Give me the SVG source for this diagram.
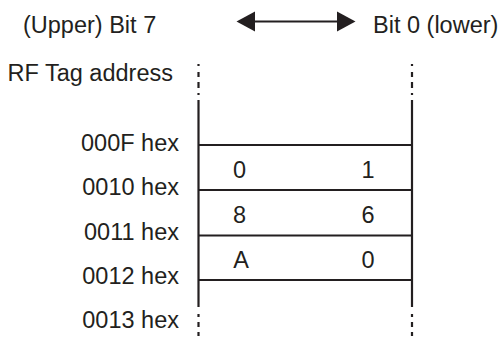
<svg xmlns="http://www.w3.org/2000/svg" width="504" height="340" viewBox="0 0 504 340">
<style>
text{font-family:"Liberation Sans",Arial,sans-serif;font-size:23.5px;fill:#231f20}
.ln{stroke:#231f20;stroke-width:2.2;fill:none}
.end{text-anchor:end}
.mid{text-anchor:middle}
</style>
<rect width="504" height="340" fill="#fff"/>
<g id="header">
<text x="23" y="32.5">(Upper) Bit 7</text>
<text x="373" y="32.5">Bit 0 (lower)</text>
<text x="7.5" y="81">RF Tag address</text>
</g>
<g id="connectors">
<line class="ln" x1="254" y1="21.5" x2="338" y2="21.5" stroke-width="2.5"/>
<polygon points="236.5,21.5 255,11.5 255,31.5" fill="#231f20"/>
<polygon points="355.5,21.5 337,11.5 337,31.5" fill="#231f20"/>
</g>
<g id="memory">
<line class="ln" x1="198.5" y1="100" x2="198.5" y2="307"/>
<line class="ln" x1="412" y1="100" x2="412" y2="307"/>
<path class="ln" d="M198.5 64V66M198.5 72V77M198.5 82V88M198.5 93V95M412 64V66M412 72V77M412 82V88M412 93V95"/>
<path class="ln" d="M198.5 314V317M198.5 322V327M198.5 332V336M412 314V317M412 322V327M412 332V336"/>
<line class="ln" x1="198.5" y1="145" x2="412" y2="145"/>
<line class="ln" x1="198.5" y1="190" x2="412" y2="190"/>
<line class="ln" x1="198.5" y1="235.5" x2="412" y2="235.5"/>
<line class="ln" x1="198.5" y1="280" x2="412" y2="280"/>
</g>
<g id="labels">
<text class="end" x="179" y="151">000F hex</text>
<text class="end" x="179" y="195">0010 hex</text>
<text class="end" x="179" y="240">0011 hex</text>
<text class="end" x="179" y="284">0012 hex</text>
<text class="end" x="179" y="328">0013 hex</text>
</g>
<g id="row-0010">
<text class="mid" x="239.5" y="178">0</text>
<text class="mid" x="368" y="178">1</text>
</g>
<g id="row-0011">
<text class="mid" x="239.5" y="223">8</text>
<text class="mid" x="368" y="223">6</text>
</g>
<g id="row-0012">
<text class="mid" x="241" y="268">A</text>
<text class="mid" x="368" y="268">0</text>
</g>
</svg>
